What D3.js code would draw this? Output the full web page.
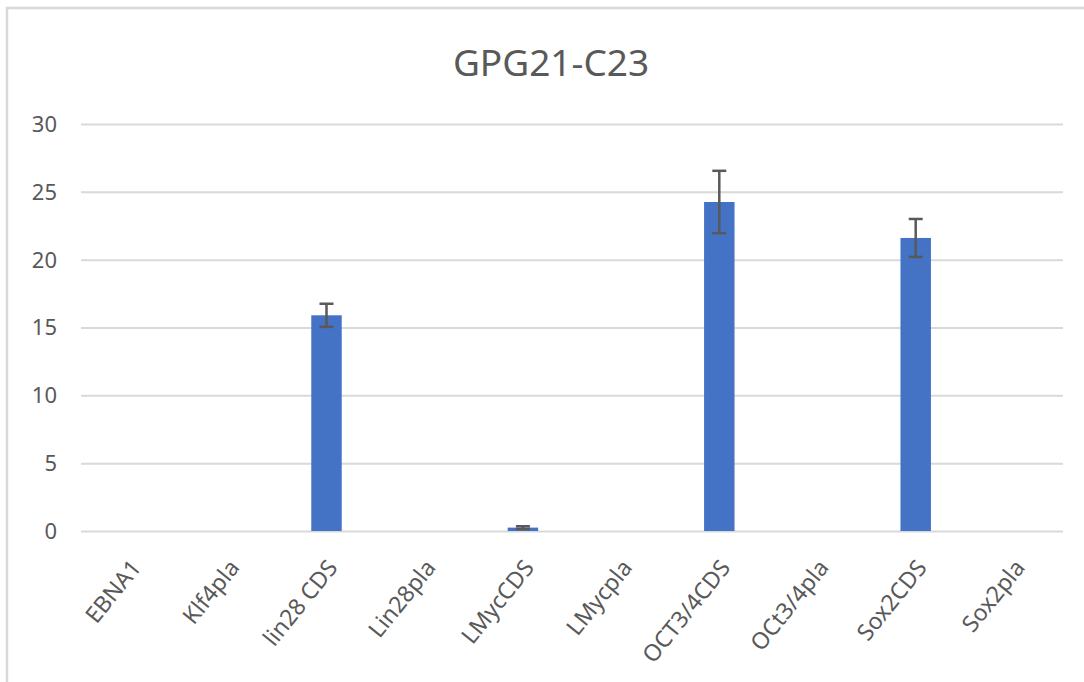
<!DOCTYPE html>
<html>
<head>
<meta charset="utf-8">
<script src="https://cdn.jsdelivr.net/npm/d3@7"></script>
<style>
  body { margin: 0; background: #fff; }
  #chart { width: 1084px; height: 682px; }
  text { font-family: "Noto Sans", "Open Sans", sans-serif; fill: #595959; }
</style>
</head>
<body>
<div id="chart"></div>
<script>
const title = "GPG21-C23";
const categories = ["EBNA1", "Klf4pla", "lin28 CDS", "Lin28pla", "LMycCDS", "LMycpla", "OCT3/4CDS", "OCt3/4pla", "Sox2CDS", "Sox2pla"];
const values = [0, 0, 15.9, 0, 0.25, 0, 24.25, 0, 21.6, 0];
const errors = [0, 0, 0.85, 0, 0.1, 0, 2.3, 0, 1.4, 0];
const yTicks = [0, 5, 10, 15, 20, 25, 30];

const width = 1084, height = 682;
const margin = { top: 124, right: 21, bottom: 151, left: 81 };
const w = width - margin.left - margin.right;
const h = height - margin.top - margin.bottom;

const svg = d3.select("#chart").append("svg")
  .attr("width", width)
  .attr("height", height);

// chart frame
svg.append("path")
  .attr("d", "M7,682 V8 H1084")
  .attr("fill", "none")
  .attr("stroke", "#d9d9d9")
  .attr("stroke-width", 2.5);

svg.append("text")
  .attr("x", 551)
  .attr("y", 76)
  .attr("text-anchor", "middle")
  .style("font-size", "37px")
  .text(title);

const g = svg.append("g")
  .attr("transform", "translate(" + margin.left + "," + margin.top + ")");

const x = d3.scaleBand().domain(categories).range([0, w]).paddingInner(0.69).paddingOuter(0.345);
const xc = d3.scaleBand().domain(categories).range([0, w]);
const y = d3.scaleLinear().domain([0, 30]).range([h, 0]);

// grid
g.append("g")
  .call(d3.axisLeft(y).tickValues(yTicks).tickSize(-w).tickFormat(""))
  .call(s => s.select(".domain").remove())
  .call(s => s.selectAll(".tick line").attr("stroke", "#d9d9d9").attr("stroke-width", 2));

// y labels
g.append("g")
  .selectAll("text")
  .data(yTicks)
  .join("text")
  .attr("x", -24)
  .attr("y", d => y(d))
  .attr("dy", "0.36em")
  .attr("text-anchor", "end")
  .style("font-size", "22px")
  .text(d => d);

// bars
g.append("g")
  .selectAll("rect")
  .data(values)
  .join("rect")
  .attr("x", (d, i) => x(categories[i]))
  .attr("y", d => y(d))
  .attr("width", x.bandwidth())
  .attr("height", d => h - y(d))
  .attr("fill", "#4472c4");

// error bars
const eb = g.append("g")
  .attr("stroke", "#595959")
  .attr("stroke-width", 2.5)
  .selectAll("g")
  .data(values.map((v, i) => ({ c: categories[i], v: v, e: errors[i] })).filter(d => d.v > 0))
  .join("g")
  .attr("transform", d => "translate(" + (xc(d.c) + xc.bandwidth() / 2) + ",0)");

eb.append("line")
  .attr("y1", d => y(d.v - d.e))
  .attr("y2", d => y(d.v + d.e));
eb.append("line")
  .attr("x1", -7).attr("x2", 7)
  .attr("y1", d => y(d.v + d.e)).attr("y2", d => y(d.v + d.e));
eb.append("line")
  .attr("x1", -7).attr("x2", 7)
  .attr("y1", d => y(d.v - d.e)).attr("y2", d => y(d.v - d.e));

// category labels
g.append("g")
  .selectAll("text")
  .data(categories)
  .join("text")
  .attr("text-anchor", "end")
  .attr("transform", d => "translate(" + (xc(d) + xc.bandwidth() / 2 + 6) + "," + (h + 32) + ") rotate(-51)")
  .attr("dy", "0.35em")
  .style("font-size", "23px")
  .text(d => d);
</script>
</body>
</html>
